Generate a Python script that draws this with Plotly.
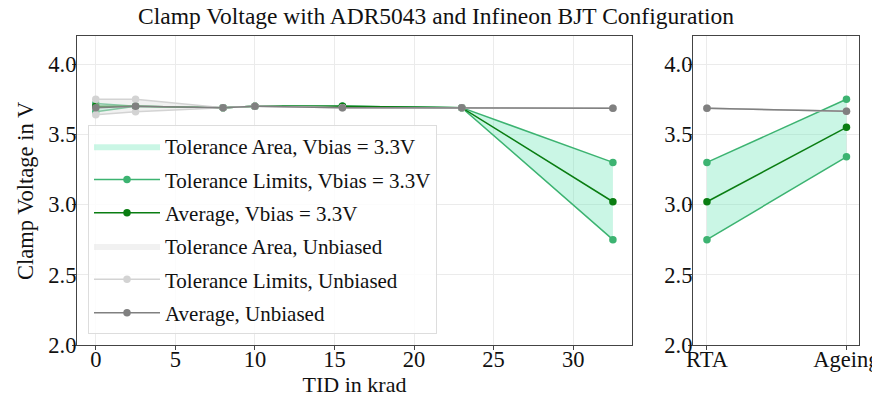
import plotly.graph_objects as go

# ---- data ----
tid = [0, 2.5, 8, 10, 15.5, 23, 32.5]
bias_upper = [3.72, 3.70, 3.69, 3.70, 3.70, 3.69, 3.30]
bias_avg = [3.70, 3.70, 3.69, 3.70, 3.70, 3.69, 3.02]
bias_lower = [3.66, 3.70, 3.69, 3.70, 3.70, 3.69, 2.75]
unb_upper = [3.75, 3.75, 3.69, 3.70, 3.69, 3.69, 3.685]
unb_avg = [3.69, 3.70, 3.69, 3.70, 3.69, 3.69, 3.685]
unb_lower = [3.64, 3.66, 3.69, 3.70, 3.69, 3.69, 3.685]

stages = ["RTA", "Ageing"]
stage_pos = [0, 1]
st_bias_upper = [3.30, 3.75]
st_bias_avg = [3.02, 3.55]
st_bias_lower = [2.75, 3.34]
st_unb_upper = [3.685, 3.665]
st_unb_avg = [3.685, 3.665]
st_unb_lower = [3.685, 3.665]

yticks = [2.0, 2.5, 3.0, 3.5, 4.0]
xticks = [0, 5, 10, 15, 20, 25, 30]

FONT = "Liberation Serif"
C_AREA = "rgba(102,230,180,0.35)"
C_LIM = "#3cb371"
C_AVG = "#0a7d12"
C_UAREA = "rgba(225,225,225,0.45)"
C_ULIM = "#d3d3d3"
C_UAVG = "#808080"

fig = go.Figure()

def add_group(x, up, av, lo, xa, ya, show, names, colors):
    area_c, lim_c, avg_c = colors
    fig.add_trace(go.Scatter(
        x=list(x) + list(x)[::-1], y=list(up) + list(lo)[::-1],
        fill="toself", fillcolor=area_c, mode="lines", line=dict(width=0),
        name=names[0], showlegend=show, legendgroup=names[0],
        xaxis=xa, yaxis=ya, hoverinfo="skip"))
    fig.add_trace(go.Scatter(
        x=x, y=up, mode="lines+markers", line=dict(color=lim_c, width=1.5),
        marker=dict(size=7.5, color=lim_c), name=names[1], showlegend=show,
        legendgroup=names[1], xaxis=xa, yaxis=ya))
    fig.add_trace(go.Scatter(
        x=x, y=lo, mode="lines+markers", line=dict(color=lim_c, width=1.5),
        marker=dict(size=7.5, color=lim_c), name=names[1], showlegend=False,
        legendgroup=names[1], xaxis=xa, yaxis=ya))
    fig.add_trace(go.Scatter(
        x=x, y=av, mode="lines+markers", line=dict(color=avg_c, width=1.5),
        marker=dict(size=7.5, color=avg_c), name=names[2], showlegend=show,
        legendgroup=names[2], xaxis=xa, yaxis=ya))

bias_names = ["Tolerance Area, Vbias = 3.3V", "Tolerance Limits, Vbias = 3.3V", "Average, Vbias = 3.3V"]
unb_names = ["Tolerance Area, Unbiased", "Tolerance Limits, Unbiased", "Average, Unbiased"]

add_group(tid, bias_upper, bias_avg, bias_lower, "x", "y", True, bias_names, (C_AREA, C_LIM, C_AVG))
add_group(tid, unb_upper, unb_avg, unb_lower, "x", "y", True, unb_names, (C_UAREA, C_ULIM, C_UAVG))
add_group(stage_pos, st_bias_upper, st_bias_avg, st_bias_lower, "x2", "y2", False, bias_names, (C_AREA, C_LIM, C_AVG))
add_group(stage_pos, st_unb_upper, st_unb_avg, st_unb_lower, "x2", "y2", False, unb_names, (C_UAREA, C_ULIM, C_UAVG))

# body margin is removed by post_script, so paper px = screen px
W, H = 872, 401

def px(v):
    return v / W

def py(v):
    return 1 - v / H

ax_common = dict(showline=True, mirror=True, linecolor="#444", linewidth=1.2,
                 showgrid=True, gridcolor="#ebebeb", gridwidth=1, zeroline=False,
                 ticks="outside", ticklen=4, tickcolor="#444",
                 ticklabeloverflow="allow", automargin=False,
                 tickfont=dict(family=FONT, size=22.5, color="#111"))
xa_common = dict(ax_common, ticklabelstandoff=-10)
ya_common = dict(ax_common, ticklabelstandoff=-9)

fig.update_layout(
    width=W, height=H, margin=dict(l=0, r=0, t=0, b=0),
    paper_bgcolor="white", plot_bgcolor="white",
    font=dict(family=FONT, color="#111"),
    title=dict(text="Clamp Voltage with ADR5043 and Infineon BJT Configuration",
               x=0.5, xanchor="center", y=py(16), yanchor="middle",
               font=dict(family=FONT, size=23.5, color="#111")),
    xaxis=dict(domain=[px(77), px(632)], range=[-1.18, 33.7], tickvals=xticks,
               title=dict(text="TID in krad", font=dict(family=FONT, size=22), standoff=0),
               anchor="y", **xa_common),
    yaxis=dict(domain=[py(345), py(36)], range=[2.0, 4.2], tickvals=yticks,
               tickformat=".1f", anchor="x", **ya_common),
    xaxis2=dict(domain=[px(693), px(859)], range=[-0.1, 1.09], tickvals=stage_pos,
                ticktext=stages, anchor="y2", **xa_common),
    yaxis2=dict(domain=[py(345), py(36)], range=[2.0, 4.2], tickvals=yticks,
                tickformat=".1f", anchor="x2", **ya_common),
    legend=dict(x=px(88), y=py(125), xanchor="left", yanchor="top",
                bgcolor="rgba(255,255,255,0.85)", bordercolor="#dddddd", borderwidth=1,
                font=dict(family=FONT, size=21, color="#111"), tracegroupgap=3,
                itemwidth=66),
    annotations=[dict(text="Clamp Voltage in V", textangle=-90, showarrow=False,
                      xref="paper", yref="paper", x=px(25), y=py(191),
                      xanchor="center", yanchor="middle",
                      font=dict(family=FONT, size=22.5, color="#111"))],
    showlegend=True,
)

fig.write_html("out.html", config={"displayModeBar": False},
               post_script="document.body.style.margin='0';document.body.style.overflow='hidden';")
